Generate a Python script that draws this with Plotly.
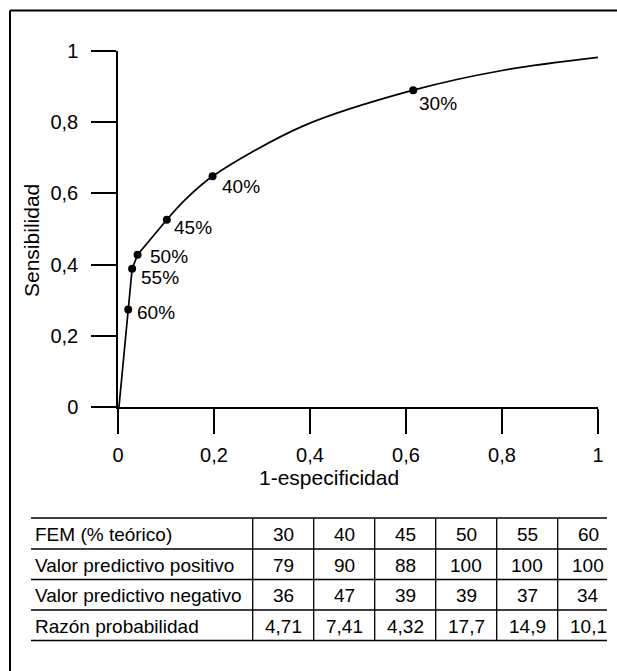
import plotly.graph_objects as go

# ---- data ----
pt_labels = ["60%", "55%", "50%", "45%", "40%", "30%"]
pt_x = [0.0213, 0.0294, 0.0408, 0.1017, 0.197, 0.615]
pt_y = [0.274, 0.388, 0.428, 0.526, 0.648, 0.890]

# lower, nearly straight segment of the curve (origin -> 45%)
low_x = [0.002, 0.0213, 0.0294, 0.0408, 0.1017]
low_y = [0.0, 0.274, 0.388, 0.428, 0.526]
# upper, smooth segment (45% -> end)
up_x = [0.1017, 0.139, 0.197, 0.385, 0.615, 0.803, 1.0]
up_y = [0.526, 0.581, 0.648, 0.789, 0.890, 0.946, 0.982]

tick_vals = [0, 0.2, 0.4, 0.6, 0.8, 1]
tick_text = ["0", "0,2", "0,4", "0,6", "0,8", "1"]

row_labels = ["FEM (% teórico)", "Valor predictivo positivo",
              "Valor predictivo negativo", "Razón probabilidad"]
fem = ["30", "40", "45", "50", "55", "60"]
vpp = ["79", "90", "88", "100", "100", "100"]
vpn = ["36", "47", "39", "39", "37", "34"]
razon = ["4,71", "7,41", "4,32", "17,7", "14,9", "10,1"]

# ---- layout geometry (pixels) ----
OFF = 0                      # body margin removed via post_script
W, H = 617, 671
L, R, T, B = 118, 19, 51, 264
PW, PH = W - L - R, H - T - B
FONT = "Liberation Sans, Arial, Helvetica, sans-serif"


def px(x):
    """page pixel x -> paper fraction"""
    return (x - OFF - L) / PW


def py(y):
    """page pixel y (from top) -> paper fraction"""
    return (H - B - (y - OFF)) / PH


fig = go.Figure()
fig.add_trace(go.Scatter(x=low_x, y=low_y, mode="lines",
                         line=dict(color="black", width=1.7),
                         hoverinfo="skip", showlegend=False))
fig.add_trace(go.Scatter(x=up_x, y=up_y, mode="lines",
                         line=dict(color="black", width=1.7, shape="spline",
                                   smoothing=0.9),
                         hoverinfo="skip", showlegend=False))
fig.add_trace(go.Scatter(x=pt_x, y=pt_y, mode="markers",
                         marker=dict(color="black", size=8),
                         hoverinfo="skip", showlegend=False))

# label offsets (pixels: right, down)
offs = {"60%": (7, 3), "55%": (7, 9), "50%": (10, 2), "45%": (5, 8),
        "40%": (7, 10), "30%": (4, 13)}
for lab, x, y in zip(pt_labels, pt_x, pt_y):
    dx, dy = offs[lab]
    fig.add_annotation(x=x, y=y, text=lab, showarrow=False,
                       xanchor="left", yanchor="middle",
                       xshift=dx, yshift=-dy,
                       font=dict(family=FONT, size=19, color="black"))

axis_common = dict(range=[0, 1], tickmode="array", tickvals=tick_vals,
                   ticktext=tick_text, ticks="outside", ticklen=25,
                   tickwidth=1.5, tickcolor="black", showline=True,
                   linecolor="black", linewidth=1.5, showgrid=False,
                   zeroline=False, fixedrange=True,
                   tickfont=dict(family=FONT, size=20, color="black"))
fig.update_xaxes(**axis_common, ticklabelstandoff=4)
fig.update_yaxes(**axis_common, ticklabelstandoff=9)

# axis titles
fig.add_annotation(xref="paper", yref="paper", x=px(329), y=py(477),
                   text="1-especificidad", showarrow=False,
                   xanchor="center", yanchor="middle",
                   font=dict(family=FONT, size=21, color="black"))
fig.add_annotation(xref="paper", yref="paper", x=px(31), y=py(241),
                   text="Sensibilidad", showarrow=False, textangle=-90,
                   xanchor="center", yanchor="middle",
                   font=dict(family=FONT, size=21, color="black"))

shapes = []
# outer frame (top and left)
shapes.append(dict(type="line", xref="paper", yref="paper",
                   x0=px(10), x1=px(617), y0=py(10.5), y1=py(10.5),
                   line=dict(color="black", width=2)))
shapes.append(dict(type="line", xref="paper", yref="paper",
                   x0=px(10), x1=px(10), y0=py(10.5), y1=py(671),
                   line=dict(color="black", width=2)))

# table
tab_left, tab_right = 31, 607
row_lines = [518, 549, 579.5, 610, 640.5]
col_lines = [252.7, 313.7, 374.7, 435.7, 496.7, 557.7]
col_w = 61
for yl in row_lines:
    shapes.append(dict(type="line", xref="paper", yref="paper",
                       x0=px(tab_left), x1=px(tab_right), y0=py(yl), y1=py(yl),
                       line=dict(color="black", width=1.3)))
for xl in col_lines:
    shapes.append(dict(type="line", xref="paper", yref="paper",
                       x0=px(xl), x1=px(xl), y0=py(row_lines[0]),
                       y1=py(row_lines[-1]),
                       line=dict(color="black", width=1.3)))
fig.update_layout(shapes=shapes)

rows = [fem, vpp, vpn, razon]
for i, (lab, vals) in enumerate(zip(row_labels, rows)):
    yc = (row_lines[i] + row_lines[i + 1]) / 2 + 1
    fig.add_annotation(xref="paper", yref="paper", x=px(33), y=py(yc),
                       text=lab, showarrow=False, xanchor="left",
                       yanchor="middle",
                       font=dict(family=FONT, size=19, color="black"))
    for j, v in enumerate(vals):
        xc = col_lines[j] + col_w / 2
        fig.add_annotation(xref="paper", yref="paper", x=px(xc), y=py(yc),
                           text=v, showarrow=False, xanchor="center",
                           yanchor="middle",
                           font=dict(family=FONT, size=19, color="black"))

fig.update_layout(width=W, height=H,
                  margin=dict(l=L, r=R, t=T, b=B, autoexpand=False),
                  paper_bgcolor="white", plot_bgcolor="white",
                  showlegend=False)

fig.write_html("out.html", config={"displayModeBar": False},
               post_script="document.body.style.margin='0';"
                           "document.body.style.overflow='hidden';")
